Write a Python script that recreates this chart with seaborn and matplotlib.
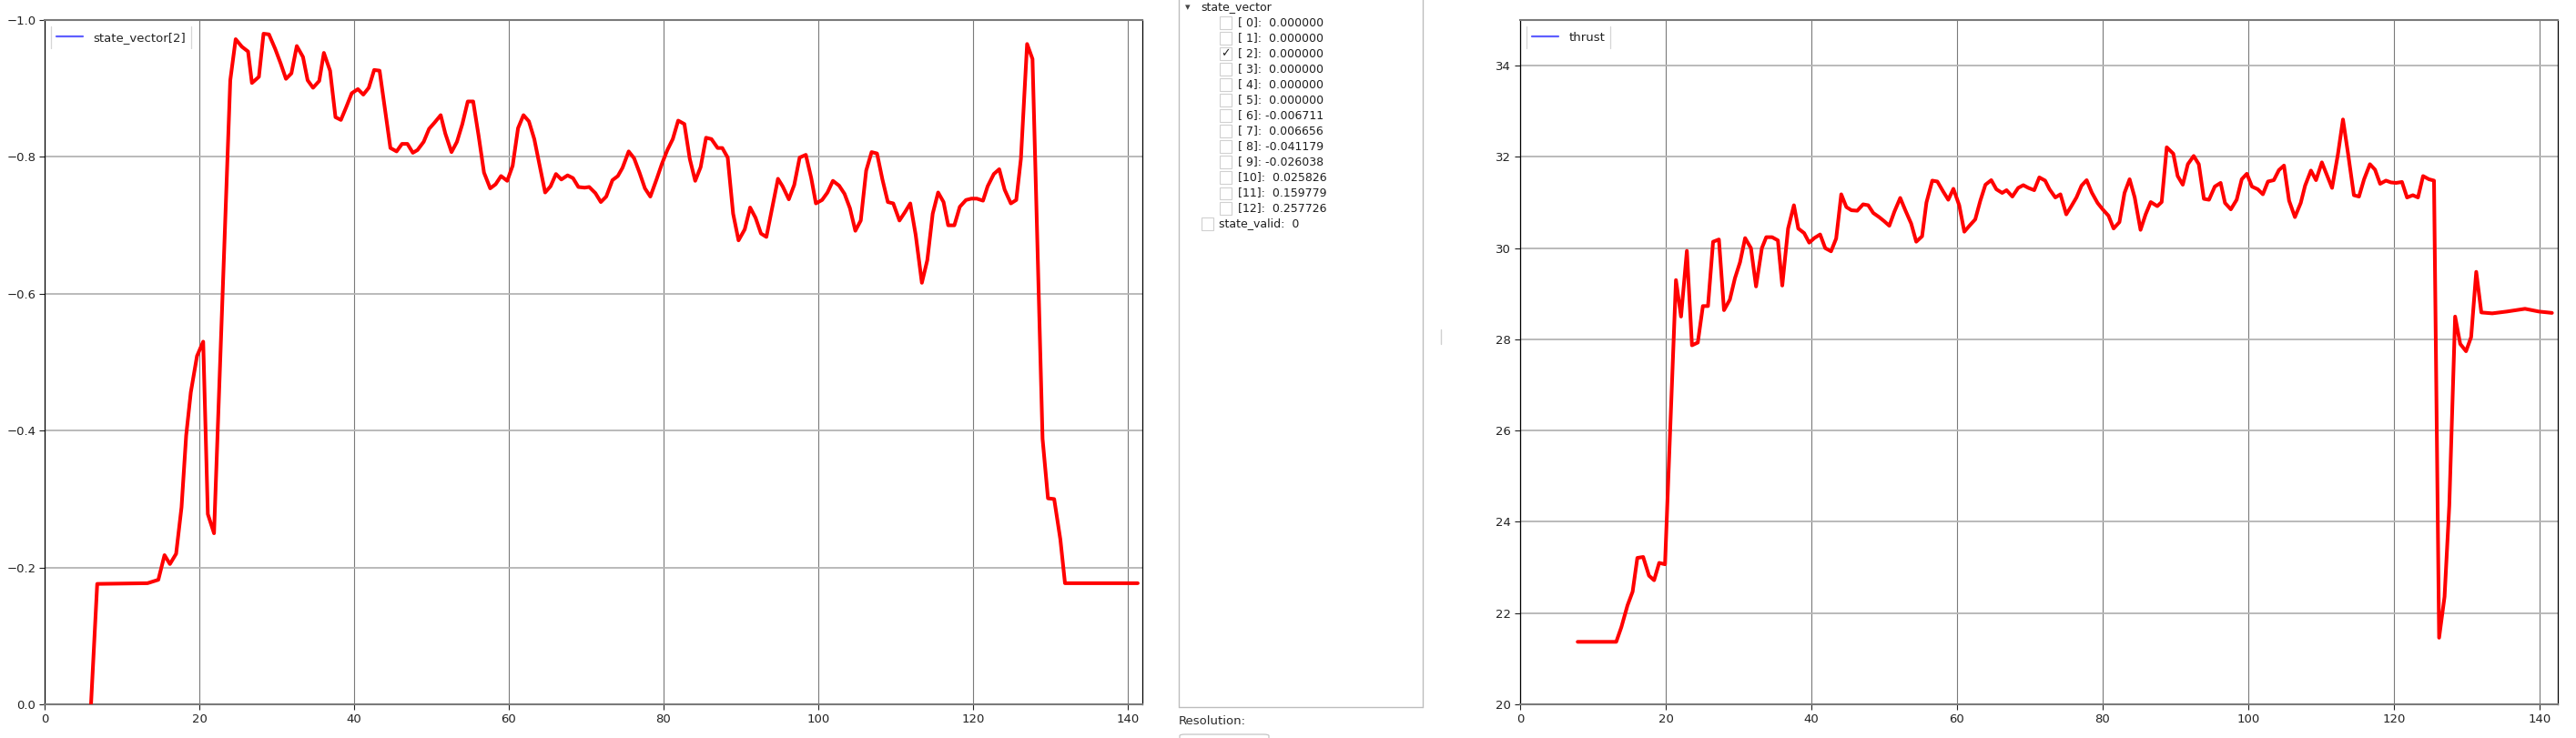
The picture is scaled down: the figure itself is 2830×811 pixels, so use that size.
import matplotlib
matplotlib.use("Agg")
import matplotlib.pyplot as plt
import seaborn as sns
import pandas as pd
from matplotlib.lines import Line2D
from matplotlib.patches import Rectangle, FancyBboxPatch

# ---------------- data ----------------
sv_time = [6.0, 6.8, 13.3, 14.7, 15.5, 16.2, 17.0, 17.7, 18.3, 18.9, 19.7, 20.5, 21.1, 21.9,
           24.0, 24.7, 25.5, 26.3, 26.8, 27.7, 28.3, 29.0, 29.8, 30.5, 31.2, 31.9, 32.6, 33.4,
           34.0, 34.7, 35.5, 36.1, 36.9, 37.6, 38.3, 39.0, 39.7, 40.5, 41.2, 41.9, 42.6, 43.3,
           44.0, 44.7, 45.5, 46.2, 46.9, 47.6, 48.2, 49.0, 49.7, 50.4, 51.2, 51.8, 52.6, 53.3,
           54.0, 54.7, 55.4, 56.1, 56.8, 57.6, 58.3, 59.0, 59.8, 60.5, 61.2, 61.9, 62.6, 63.3,
           64.0, 64.7, 65.4, 66.1, 66.8, 67.6, 68.3, 69.0, 69.8, 70.4, 71.2, 71.9, 72.6, 73.4,
           74.1, 74.7, 75.5, 76.2, 76.9, 77.6, 78.3, 79.1, 79.8, 80.5, 81.2, 81.9, 82.7, 83.4,
           84.1, 84.8, 85.5, 86.2, 87.0, 87.6, 88.3, 89.0, 89.7, 90.5, 91.2, 91.9, 92.6, 93.3,
           94.1, 94.8, 95.4, 96.2, 96.9, 97.6, 98.4, 99.1, 99.7, 100.5, 101.2, 101.9, 102.7,
           103.4, 104.1, 104.8, 105.5, 106.2, 106.9, 107.6, 108.3, 109.0, 109.7, 110.5, 111.2,
           111.9, 112.6, 113.4, 114.1, 114.8, 115.5, 116.2, 116.8, 117.6, 118.3, 119.1, 119.8,
           120.5, 121.3, 121.9, 122.7, 123.4, 124.1, 124.9, 125.6, 126.2, 127.0, 127.7, 129.0,
           129.7, 130.5, 131.3, 131.9, 141.3]
sv_value = [0.0, -0.176, -0.177, -0.182, -0.218, -0.205, -0.220, -0.288, -0.393, -0.456, -0.509,
            -0.530, -0.278, -0.250,
            -0.912, -0.972, -0.961, -0.954, -0.908, -0.917, -0.980, -0.979, -0.958, -0.937, -0.914,
            -0.922, -0.962, -0.946,
            -0.912, -0.901, -0.911, -0.952, -0.926, -0.858, -0.854, -0.873, -0.893, -0.899, -0.891,
            -0.901, -0.927, -0.926,
            -0.869, -0.813, -0.808, -0.819, -0.819, -0.806, -0.810, -0.822, -0.841, -0.850, -0.861,
            -0.834, -0.807, -0.822,
            -0.848, -0.881, -0.881, -0.831, -0.777, -0.754, -0.760, -0.772, -0.765, -0.787, -0.842,
            -0.861, -0.852, -0.826,
            -0.787, -0.748, -0.757, -0.775, -0.767, -0.773, -0.769, -0.756, -0.755, -0.756, -0.747,
            -0.734, -0.742, -0.766,
            -0.772, -0.784, -0.808, -0.798, -0.777, -0.754, -0.742, -0.767, -0.790, -0.810, -0.826,
            -0.853, -0.848, -0.797,
            -0.765, -0.785, -0.828, -0.826, -0.813, -0.813, -0.799, -0.717, -0.678, -0.694, -0.726,
            -0.711, -0.688, -0.683,
            -0.728, -0.768, -0.757, -0.738, -0.759, -0.799, -0.803, -0.769, -0.732, -0.737, -0.748,
            -0.765, -0.758,
            -0.746, -0.725, -0.692, -0.707, -0.780, -0.807, -0.805, -0.767, -0.734, -0.732, -0.707,
            -0.719,
            -0.732, -0.686, -0.616, -0.649, -0.717, -0.748, -0.734, -0.700, -0.700, -0.727, -0.737,
            -0.739,
            -0.739, -0.736, -0.757, -0.775, -0.782, -0.752, -0.732, -0.737, -0.797, -0.965, -0.943,
            -0.388,
            -0.301, -0.300, -0.241, -0.177, -0.177]

thrust_time = [7.9, 13.2, 13.9, 14.75, 15.45, 16.1, 16.9, 17.7, 18.4, 19.1, 19.9, 21.4, 22.1,
               22.9, 23.6, 24.4, 25.1, 25.8, 26.5, 27.3, 28.0, 28.8, 29.5, 30.2, 30.9, 31.7,
               32.4, 33.2, 33.8, 34.6, 35.4, 36.0, 36.8, 37.6, 38.2, 39.0, 39.7, 40.4, 41.2,
               41.9, 42.7, 43.4, 44.1, 44.8, 45.5, 46.3, 47.1, 47.8, 48.5, 49.3, 50.0, 50.7,
               51.4, 52.2, 52.9, 53.7, 54.4, 55.2, 55.8, 56.6, 57.3, 58.1, 58.8, 59.5, 60.3,
               61.0, 61.7, 62.5, 63.2, 63.9, 64.7, 65.4, 66.2, 66.8, 67.6, 68.4, 69.1, 69.8,
               70.6, 71.3, 72.1, 72.7, 73.5, 74.2, 75.0, 75.7, 76.4, 77.1, 77.8, 78.5, 79.3,
               80.0, 80.8, 81.5, 82.3, 83.0, 83.7, 84.4, 85.2, 85.9, 86.6, 87.5, 88.1, 88.8,
               89.7, 90.3, 91.0, 91.7, 92.5, 93.2, 93.9, 94.6, 95.4, 96.2, 96.8, 97.6, 98.4,
               99.1, 99.8, 100.5, 101.3, 102.0, 102.7, 103.5, 104.2, 104.9, 105.6, 106.4,
               107.2, 107.8, 108.6, 109.3, 110.1, 110.8, 111.5, 112.3, 113.0, 113.7, 114.5,
               115.2, 115.9, 116.7, 117.4, 118.1, 118.9, 119.6, 120.3, 121.1, 121.8, 122.6,
               123.3, 124.0, 124.8, 125.5, 126.2, 126.95, 127.6, 128.4, 129.1, 129.9, 130.6,
               131.3, 132.0, 133.5, 135.5, 138.0, 139.9, 141.7]
thrust_value = [21.37, 21.37, 21.69, 22.17, 22.47, 23.21, 23.23, 22.82, 22.72, 23.10, 23.07,
                29.30, 28.50,
                29.94, 27.87, 27.93, 28.73, 28.73, 30.14, 30.19, 28.64, 28.87, 29.34, 29.69,
                30.22, 30.00,
                29.16, 30.00, 30.24, 30.24, 30.17, 29.18, 30.43, 30.94, 30.43, 30.33, 30.12,
                30.22, 30.30,
                30.00, 29.93, 30.21, 31.18, 30.90, 30.83, 30.82, 30.96, 30.94, 30.77, 30.68,
                30.59, 30.49,
                30.80, 31.10, 30.83, 30.54, 30.14, 30.26, 31.00, 31.48, 31.46, 31.24, 31.06,
                31.30, 30.94,
                30.36, 30.49, 30.63, 31.04, 31.39, 31.49, 31.29, 31.21, 31.27, 31.13, 31.32,
                31.38, 31.32,
                31.27, 31.55, 31.48, 31.29, 31.11, 31.18, 30.74, 30.92, 31.11, 31.37, 31.49,
                31.22, 30.99,
                30.85, 30.71, 30.43, 30.57, 31.21, 31.51, 31.11, 30.40, 30.74, 31.01, 30.92,
                31.01, 32.21,
                32.07, 31.58, 31.39, 31.84, 32.02, 31.84, 31.08, 31.06, 31.35, 31.43, 30.99,
                30.85, 31.06,
                31.51, 31.63, 31.35, 31.29, 31.18, 31.46, 31.49, 31.71, 31.81, 31.04, 30.68,
                30.99, 31.37, 31.70, 31.49, 31.88, 31.60, 31.32, 32.05, 32.82, 32.07, 31.16,
                31.13, 31.51, 31.84, 31.72, 31.41, 31.48, 31.44, 31.43, 31.45, 31.11, 31.16,
                31.11, 31.58, 31.51, 31.48, 21.46, 22.36, 24.36, 28.50, 27.90, 27.74, 28.05,
                29.48, 28.59, 28.57, 28.61, 28.67, 28.61, 28.58]

left_label = "state_vector[2]"
right_label = "thrust"
x_ticks = [0, 20, 40, 60, 80, 100, 120, 140]
left_yticks = [0.0, -0.2, -0.4, -0.6, -0.8, -1.0]
right_yticks = [20, 22, 24, 26, 28, 30, 32, 34]

tree_header = "state_vector"
tree_rows = ["[ 0]:  0.000000", "[ 1]:  0.000000", "[ 2]:  0.000000", "[ 3]:  0.000000",
             "[ 4]:  0.000000", "[ 5]:  0.000000", "[ 6]: -0.006711", "[ 7]:  0.006656",
             "[ 8]: -0.041179", "[ 9]: -0.026038", "[10]:  0.025826", "[11]:  0.159779",
             "[12]:  0.257726"]
tree_checked = [2]
tree_footer = "state_valid:  0"
resolution_label = "Resolution:"

assert len(sv_time) == len(sv_value)
assert len(thrust_time) == len(thrust_value)

sv_df = pd.DataFrame({"t": sv_time, "v": sv_value})
th_df = pd.DataFrame({"t": thrust_time, "v": thrust_value})

# ---------------- figure ----------------
sns.set_theme(style="white")
plt.rcParams['font.family'] = ['DejaVu Sans']

W, H = 2830, 811
fig = plt.figure(figsize=(W / 100, H / 100), dpi=100)
fig.patch.set_facecolor("white")


def fx(x):
    return x / W


def fy(y):
    return 1 - y / H


def make_axes(l, r, t, b):
    return fig.add_axes([fx(l), fy(b), (r - l) / W, (b - t) / H])


ax1 = make_axes(49, 1255, 22, 774)
ax2 = make_axes(1670, 2810, 22, 774)

sns.lineplot(data=sv_df, x="t", y="v", ax=ax1, color="#ff0000", linewidth=2.9,
             estimator=None, sort=False, legend=False, zorder=5)
sns.lineplot(data=th_df, x="t", y="v", ax=ax2, color="#ff0000", linewidth=2.9,
             estimator=None, sort=False, legend=False, zorder=5)

ax1.set_xlim(0, 141.9)
ax1.set_ylim(0.0, -1.0)
ax1.set_yticks(left_yticks)
ax2.set_xlim(0, 142.5)
ax2.set_ylim(20, 35)
ax2.set_yticks(right_yticks)

legends = []
for ax, lab in ((ax1, left_label), (ax2, right_label)):
    ax.set_xticks(x_ticks)
    ax.set_xlabel("")
    ax.set_ylabel("")
    ax.set_facecolor("white")
    ax.set_axisbelow(True)
    ax.xaxis.grid(True, color="#7a7a7a", linewidth=0.8)
    ax.yaxis.grid(True, color="#b4b4b4", linewidth=1.3)
    ax.tick_params(axis="both", which="major", length=4, width=0.8, pad=3,
                   labelsize=9.5, labelcolor="#222222", color="#222222",
                   bottom=True, left=True)
    ax.spines["left"].set_color("#000000")
    ax.spines["left"].set_linewidth(0.9)
    ax.spines["right"].set_color("#000000")
    ax.spines["right"].set_linewidth(0.9)
    ax.spines["top"].set_color("#7a7a7a")
    ax.spines["top"].set_linewidth(1.5)
    ax.spines["bottom"].set_color("#7a7a7a")
    ax.spines["bottom"].set_linewidth(1.5)
    handle = Line2D([0], [0], color="#5f5fff", linewidth=1.6)
    leg = ax.legend([handle], [lab], loc="upper left", fontsize=9.5, frameon=True,
                    fancybox=False, framealpha=1.0, edgecolor="none",
                    handlelength=2.2, handletextpad=0.9, borderpad=0.45,
                    borderaxespad=0.5)
    for t in leg.get_texts():
        t.set_color("#222222")
    legends.append(leg)

fig.canvas.draw()
inv = fig.transFigure.inverted()
for leg in legends:
    bb = leg.get_frame().get_window_extent()
    (x0, y0), (x1, y1) = inv.transform([[bb.x0, bb.y0], [bb.x1, bb.y1]])
    for xx in (x0, x1):
        fig.add_artist(Line2D([xx, xx], [y0, y1], transform=fig.transFigure,
                              color="#d6d6d6", linewidth=0.9))

# ---------------- middle tree panel ----------------
box_col = "#bdbdbd"
fig.add_artist(Line2D([fx(1295), fx(1295)], [fy(-2), fy(777)], transform=fig.transFigure,
                      color=box_col, linewidth=1.0))
fig.add_artist(Line2D([fx(1563), fx(1563)], [fy(-2), fy(777)], transform=fig.transFigure,
                      color=box_col, linewidth=1.0))
fig.add_artist(Line2D([fx(1295), fx(1563)], [fy(777), fy(777)], transform=fig.transFigure,
                      color=box_col, linewidth=1.0))

txt_col = "#1e1e1e"
fig.text(fx(1305), fy(8), "\u25BE", fontsize=8, color="#444444", ha="center", va="center")
fig.text(fx(1319), fy(8), tree_header, fontsize=9, color=txt_col, ha="left", va="center")
for i, row in enumerate(tree_rows):
    yc = 25 + 17 * i
    fig.add_artist(Rectangle((fx(1340), fy(yc + 6.5)), 13 / W, 13 / H,
                             transform=fig.transFigure, fill=False,
                             edgecolor="#d0d0d0", linewidth=0.8))
    if i in tree_checked:
        fig.text(fx(1346.5), fy(yc), "\u2713", fontsize=9, color="#222222",
                 ha="center", va="center")
    fig.text(fx(1360), fy(yc), row, fontsize=9, color=txt_col, ha="left", va="center")

fig.add_artist(Rectangle((fx(1320), fy(246 + 6.5)), 13 / W, 13 / H,
                         transform=fig.transFigure, fill=False,
                         edgecolor="#d0d0d0", linewidth=0.8))
fig.text(fx(1339), fy(246), tree_footer, fontsize=9, color=txt_col, ha="left", va="center")

fig.text(fx(1295), fy(792), resolution_label, fontsize=9.5, color="#2a2a2a",
         ha="left", va="center")
fig.add_artist(FancyBboxPatch((fx(1296), fy(825)), 98 / W, 18 / H,
                              boxstyle="round,pad=0,rounding_size=0.002",
                              transform=fig.transFigure, fill=False,
                              edgecolor="#c4c4c4", linewidth=0.9))
fig.add_artist(Line2D([fx(1583), fx(1583)], [fy(362), fy(378)], transform=fig.transFigure,
                      color="#d0d0d0", linewidth=1.0))

fig.savefig("out.png", dpi=100, facecolor="white")
